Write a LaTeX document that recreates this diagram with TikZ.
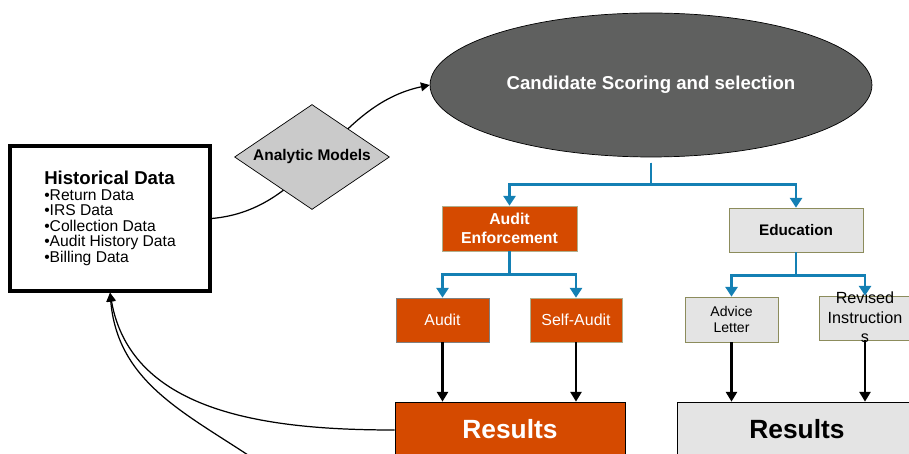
\documentclass[tikz,border=0pt]{standalone}
\usepackage{fontspec}
\setmainfont{Liberation Sans}
\usetikzlibrary{shapes.geometric, positioning, arrows.meta}
\usepackage{xcolor}
\definecolor{rust}{HTML}{D54A00}
\definecolor{slate}{HTML}{5F605F}
\definecolor{paper}{HTML}{E4E4E4}
\definecolor{olive}{HTML}{8C8C5C}
\definecolor{treeblue}{HTML}{1480B4}
\definecolor{stone}{HTML}{CACACA}
\tikzset{
	>={Triangle[length=5.5pt,width=6pt]},
	box/.style={draw, rectangle, inner sep=0pt, align=center},
	redbox/.style={box, fill=rust, draw=olive!70, text=white},
	greybox/.style={box, fill=paper, draw=olive},
	tree/.style={->, draw=treeblue, line width=1.4pt, >={Triangle[length=5.5pt,width=6.8pt]}},
	down/.style={->, line width=1.3pt, >={Triangle[length=5.5pt,width=6.2pt]}},
	feed/.style={->, line width=0.7pt, >={Triangle[length=5pt,width=5pt]}}}

\begin{document}
\begin{tikzpicture}[x=0.02cm, y=0.02cm]
		\useasboundingbox (0,0) rectangle (909,453);
		\clip (0,0) rectangle (909,453);
		
		\node[box, line width=2pt, minimum width=4cm, minimum height=2.9cm,
			font=\fontsize{8.9}{8.8}\selectfont, align=left] (hist) at (110,234.5)
			{{\fontsize{10.6}{11}\selectfont\bfseries Historical Data}\\
			 •Return Data\\ •IRS Data\\ •Collection Data\\ •Audit History Data\\ •Billing Data};
		\node[ellipse, draw, fill=slate, text=white, inner sep=0pt, minimum width=8.84cm,
			minimum height=2.88cm, font=\fontsize{10.6}{12}\selectfont\bfseries] (scoring) at (651,368)
			{Candidate Scoring and selection};
		\node[redbox, minimum width=2.7cm, minimum height=0.9cm,
			font=\fontsize{9}{11}\selectfont\bfseries] (enforce) at (509.5,224.5) {Audit\\Enforcement};
		\node[greybox, minimum width=2.68cm, minimum height=0.88cm,
			font=\fontsize{8.7}{11}\selectfont\bfseries] (edu) at (796,223) {Education};
		\node[redbox, draw=gray, minimum width=1.86cm, minimum height=0.88cm,
			font=\fontsize{9}{10}\selectfont] (audit) at (442.5,133) {Audit};
		\node[redbox, minimum width=1.84cm, minimum height=0.88cm,
			font=\fontsize{9.1}{10}\selectfont] (selfaudit) at (576,133) {Self-Audit};
		\node[greybox, minimum width=1.86cm, minimum height=0.9cm,
			font=\fontsize{8}{9}\selectfont] (advice) at (731.5,133.5) {Advice\\Letter};
		\node[greybox, minimum width=1.84cm, minimum height=0.88cm,
			font=\fontsize{9.2}{11}\selectfont] (revised) at (865,135)
			{\smash{\raisebox{-3pt}{\begin{tabular}{@{}c@{}}Revised\\Instruction\\s\end{tabular}}}};
		\node[redbox, draw=black, minimum width=4.6cm, minimum height=1.12cm,
			font=\fontsize{15}{17}\selectfont\bfseries] (resA) at (510,23) {\raisebox{1.5pt}{Results}};
		\node[greybox, draw=black, minimum width=4.8cm, minimum height=1.12cm,
			font=\fontsize{15}{17}\selectfont\bfseries] (resB) at (797,23) {\raisebox{1.5pt}{Results}};
		\coordinate (loopback) at (300,-40);
		
		\draw[feed] (hist.east) to[out=5, in=192] (scoring.west);
		\node[diamond, draw, fill=stone, inner sep=0pt, aspect=1.5, minimum width=3.1cm, minimum height=2.1cm,
			font=\fontsize{8.8}{10}\selectfont\bfseries] (models) at (312,296) {Analytic Models};
		
		\draw[tree, shorten <=3pt] (scoring.south) -- ++(0,-27) -| (enforce.north);
		\draw[tree, shorten <=3pt] (scoring.south) -- ++(0,-27) -| (edu.north);
		\draw[tree] (enforce.south) -- ++(0,-23) -| (audit.north);
		\draw[tree] (enforce.south) -- ++(0,-23) -| (selfaudit.north);
		\draw[tree] (edu.south) -- ++(0,-23) -| (advice.north);
		\draw[tree] (edu.south) -- ++(0,-23) -| (revised.north);
		
		\draw[down] (audit.south) -- (audit.south |- resA.north);
		\draw[down] (selfaudit.south) -- (selfaudit.south |- resA.north);
		\draw[down] (advice.south) -- (advice.south |- resB.north);
		\draw[down] (revised.south) -- (revised.south |- resB.north);
		
		\draw[feed] (resA.west) to[out=180, in=-80] (hist.south);
		\draw[feed] (loopback) to[out=140, in=-85] (hist.south);
		
	\end{tikzpicture}
\end{document}
